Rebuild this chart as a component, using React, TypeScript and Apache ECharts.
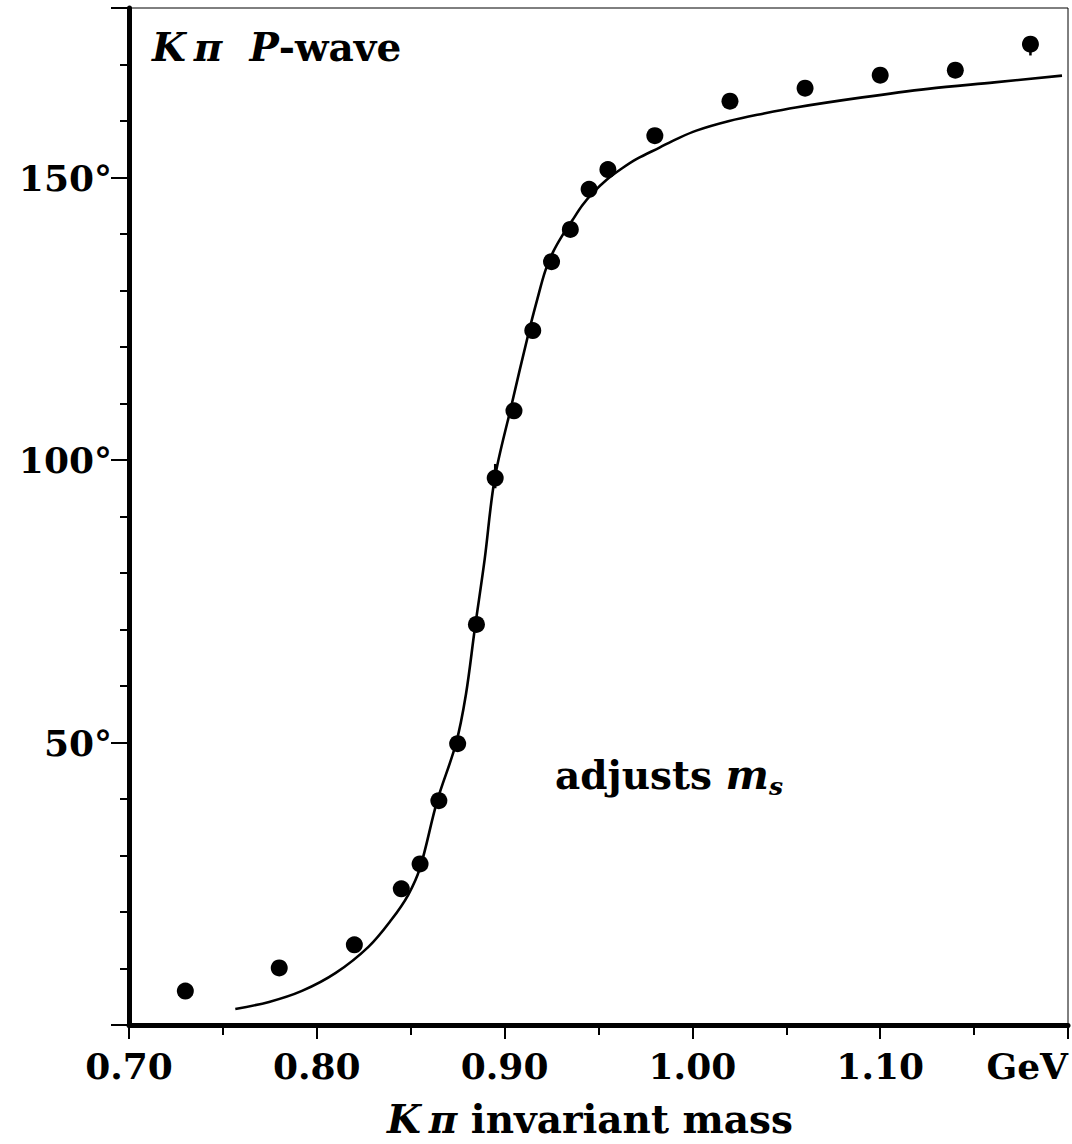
import React, { useEffect, useRef } from "react";
import * as echarts from "echarts";

// Measured phase-shift points (mass in GeV, phase in degrees)
const pointMass = [0.73, 0.78, 0.82, 0.845, 0.855, 0.865, 0.875, 0.885, 0.895, 0.905, 0.915, 0.925, 0.935, 0.945, 0.955, 0.98, 1.02, 1.06, 1.10, 1.14, 1.18];
const pointPhase = [6.0, 10.1, 14.2, 24.1, 28.5, 39.7, 49.8, 70.9, 96.8, 108.7, 122.9, 135.1, 140.8, 147.9, 151.4, 157.4, 163.5, 165.8, 168.1, 169.0, 173.6];

// Error bars (mass, low, high)
const errMass = [0.895, 1.18];
const errLow = [95.0, 171.6];
const errHigh = [99.3, 174.5];

// Fitted curve
const curveMass = [0.7566, 0.7746, 0.7921, 0.8101, 0.8275, 0.8397, 0.8487, 0.855, 0.864, 0.8741, 0.8794, 0.8841, 0.8894, 0.8947, 0.9032, 0.9131, 0.9175, 0.9217, 0.9259, 0.9307, 0.936, 0.9413, 0.9466, 0.9545, 0.9624, 0.9704, 0.9825, 0.9915, 1.0021, 1.0196, 1.0376, 1.055, 1.0905, 1.1254, 1.1608, 1.1968];
const curvePhase = [2.84, 4.08, 6.03, 9.22, 13.83, 18.62, 23.05, 27.84, 39.54, 49.82, 58.51, 70.04, 82.45, 96.63, 109.04, 122.93, 128.55, 133.51, 136.88, 139.72, 142.38, 145.04, 147.16, 149.65, 151.6, 153.3, 155.3, 156.8, 158.3, 160.0, 161.3, 162.4, 164.18, 165.69, 166.84, 168.03];

// Axis ticks
const xMin = 0.7, xMax = 1.2, xMajor = 0.1, xMinor = 0.05;
const yMin = 0, yMax = 180, yMajor = 50, yMinor = 10;
const xUnitLabel = "GeV";

const FONT = "DejaVu Serif";

export default function App() {
  const ref = useRef<HTMLDivElement>(null);
  useEffect(() => {
    if (!ref.current) return;
    const chart = echarts.init(ref.current, null, { renderer: "svg" });
    const black = "#000";
    const labelStyle = { fontFamily: FONT, fontWeight: "bold" as const, fontSize: 36, color: black };
    const bi = (size: number) => ({ fontFamily: FONT, fontWeight: "bold", fontStyle: "italic", fontSize: size, fill: black, lineHeight: size + 6 });
    const b = (size: number) => ({ fontFamily: FONT, fontWeight: "bold", fontSize: size, fill: black, lineHeight: size + 6 });
    const option: any = {
      animation: false,
      grid: { left: 129, right: 4, top: 8, bottom: 119, show: true, borderColor: black, borderWidth: 1, backgroundColor: "transparent" },
      xAxis: [
        {
          type: "value", min: xMin, max: xMax, interval: xMajor, position: "bottom",
          axisLine: { onZero: false, lineStyle: { color: black, width: 5 } },
          axisTick: { length: 14, lineStyle: { color: black, width: 2 } },
          splitLine: { show: false },
          axisLabel: {
            ...labelStyle, margin: 23, showMinLabel: true, showMaxLabel: true, alignMaxLabel: "right",
            formatter: (v: number) => (Math.abs(v - xMax) < 1e-6 ? xUnitLabel : v.toFixed(2)),
          },
        },
        {
          type: "value", min: xMin, max: xMax, interval: xMinor, position: "bottom",
          axisLine: { show: false, onZero: false },
          axisTick: { length: 10, lineStyle: { color: black, width: 2 } },
          splitLine: { show: false }, axisLabel: { show: false },
        },
      ],
      yAxis: [
        {
          type: "value", min: yMin, max: yMax, interval: yMajor, position: "left",
          axisLine: { show: true, onZero: false, lineStyle: { color: black, width: 5 } },
          axisTick: { length: 18, lineStyle: { color: black, width: 2 } },
          splitLine: { show: false },
          axisLabel: {
            ...labelStyle, margin: 17,
            formatter: (v: number) => (v === yMin || v === yMax ? "" : v + "°"),
          },
        },
        {
          type: "value", min: yMin, max: yMax, interval: yMinor, position: "left",
          axisLine: { show: false, onZero: false },
          axisTick: { length: 9, lineStyle: { color: black, width: 2 } },
          splitLine: { show: false }, axisLabel: { show: false },
        },
      ],
      series: [
        {
          type: "line", xAxisIndex: 0, yAxisIndex: 0,
          data: curveMass.map((m, i) => [m, curvePhase[i]]),
          showSymbol: false, smooth: 0.35,
          lineStyle: { color: black, width: 2.6 },
          z: 3,
        },
        {
          type: "custom", xAxisIndex: 0, yAxisIndex: 0,
          data: errMass.map((m, i) => [m, errLow[i], errHigh[i]]),
          encode: { x: 0, y: [1, 2] },
          renderItem: (params: any, api: any) => {
            const p1 = api.coord([api.value(0), api.value(1)]);
            const p2 = api.coord([api.value(0), api.value(2)]);
            return { type: "line", shape: { x1: p1[0], y1: p1[1], x2: p2[0], y2: p2[1] }, style: { stroke: black, lineWidth: 2.5 } };
          },
          z: 4,
        },
        {
          type: "scatter", xAxisIndex: 0, yAxisIndex: 0,
          data: pointMass.map((m, i) => [m, pointPhase[i]]),
          symbol: "circle", symbolSize: 17,
          itemStyle: { color: black, opacity: 1 },
          z: 5,
        },
      ],
      graphic: [
        {
          type: "text", x: 152, y: 47,
          style: {
            text: "{bi|K\u2009π  P}{b|-wave}",
            verticalAlign: "middle", align: "left",
            rich: { bi: bi(39), b: b(39) },
          },
        },
        {
          type: "text", x: 555, y: 775,
          style: {
            text: "{b|adjusts }{bi|m}{s|s}",
            verticalAlign: "middle", align: "left",
            rich: {
              b: b(39),
              bi: bi(41),
              s: { fontFamily: FONT, fontWeight: "bold", fontStyle: "italic", fontSize: 25, fill: black, lineHeight: 25, verticalAlign: "bottom" },
            },
          },
        },
        {
          type: "text", x: 590, y: 1119,
          style: {
            text: "{bi|K\u2009π}{b| invariant mass}",
            verticalAlign: "middle", align: "center",
            rich: { bi: bi(39), b: b(39) },
          },
        },
      ],
    };
    chart.setOption(option);
    return () => chart.dispose();
  }, []);
  return <div ref={ref} style={{ width: 1072, height: 1144, position: "absolute", left: 0, top: 0, background: "#fff" }} />;
}
